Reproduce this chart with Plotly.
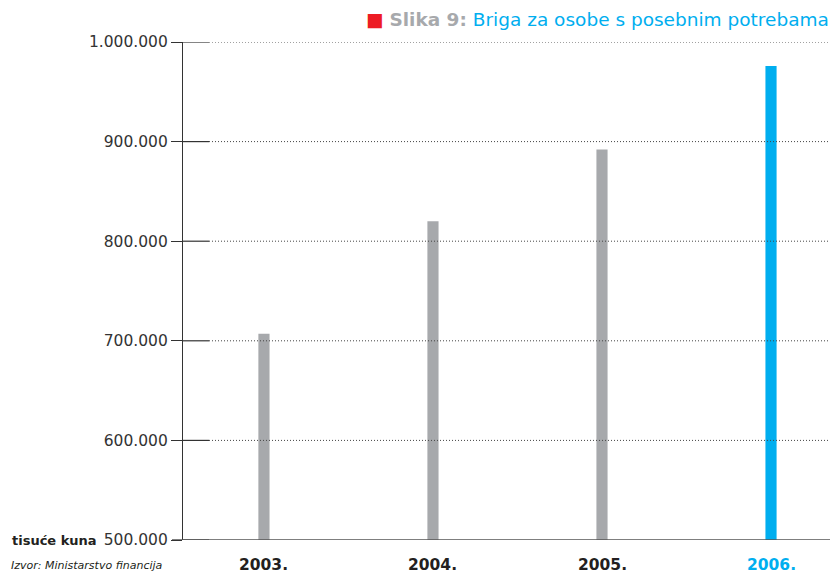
import plotly.graph_objects as go

years = ["2003.", "2004.", "2005.", "2006."]
values = [707000, 820000, 892000, 976000]
bar_colors = ["#a7a9ac", "#a7a9ac", "#a7a9ac", "#00aeef"]
label_colors = ["#231f20", "#231f20", "#231f20", "#00aeef"]
y_ticks = [500000, 600000, 700000, 800000, 900000, 1000000]
y_tick_labels = ["500.000", "600.000", "700.000", "800.000", "900.000", "1.000.000"]
unit_label = "tisuće kuna"
source_label = "Izvor: Ministarstvo financija"

xpos = list(range(len(years)))

W, H = 832, 574
L, R, T, B = 183, 2, 42, 34
pw = W - L - R
ph = H - T - B

def px_x(page_x):
    return (page_x - L) / pw

def px_y(page_y):
    return (H - B - page_y) / ph

fig = go.Figure()
fig.add_trace(go.Bar(
    x=xpos, y=values, width=0.066,
    marker=dict(color=bar_colors, line=dict(width=0)),
    base=0, hoverinfo="skip",
))

shapes = []
for v in y_ticks:
    if v != y_ticks[0]:
        shapes.append(dict(type="line", xref="paper", yref="y", x0=px_x(209), x1=1,
                           y0=v, y1=v, line=dict(color="#444444", width=1, dash="1px,2px"), layer="above"))
    shapes.append(dict(type="line", xref="paper", yref="y", x0=0, x1=px_x(209),
                       y0=v, y1=v, line=dict(color="#333333", width=1.2), layer="above"))
shapes.append(dict(type="line", xref="paper", yref="y", x0=px_x(172), x1=1,
                   y0=y_ticks[0], y1=y_ticks[0], line=dict(color="#555555", width=1.5), layer="above"))

font_fam = "DejaVu Sans, sans-serif"
annotations = [
    dict(xref="paper", yref="paper", x=px_x(831), y=px_y(20), xanchor="right", yanchor="middle",
         showarrow=False, align="right",
         text="<span style='color:#ed1c24'>■</span> <b><span style='color:#a7a9ac'>Slika 9:</span></b> "
              "<span style='color:#00aeef'>Briga za osobe s posebnim potrebama</span>",
         font=dict(family=font_fam, size=18.5)),
    dict(xref="paper", yref="paper", x=px_x(9), y=px_y(565),
         xanchor="left", yanchor="middle", showarrow=False,
         text="<i>" + source_label + "</i>",
         font=dict(family=font_fam, size=11, color="#231f20")),
    dict(xref="paper", yref="y", x=px_x(99), y=y_ticks[0],
         xanchor="right", yanchor="middle", showarrow=False,
         text="<b>" + unit_label + "</b>",
         font=dict(family=font_fam, size=13, color="#231f20")),
]
for i, (lab, c) in enumerate(zip(years, label_colors)):
    annotations.append(dict(xref="x", yref="paper", x=xpos[i], y=px_y(565),
                            xanchor="center", yanchor="middle", showarrow=False,
                            text="<b>" + lab + "</b>",
                            font=dict(family=font_fam, size=15.5, color=c)))

fig.update_layout(
    width=W, height=H,
    margin=dict(l=L, r=R, t=T, b=B, pad=0),
    paper_bgcolor="white", plot_bgcolor="white",
    showlegend=False,
    shapes=shapes, annotations=annotations,
    xaxis=dict(range=[-0.479, 3.349], showgrid=False, zeroline=False, showline=False,
               showticklabels=False, ticks=""),
    yaxis=dict(range=[500000, 1000000], tickvals=y_ticks, ticktext=y_tick_labels,
               showgrid=False, zeroline=False, showline=True, linecolor="#333333", linewidth=1.2,
               ticks="outside", ticklen=11, tickcolor="#333333", tickwidth=1.2,
               tickfont=dict(family=font_fam, size=15.5, color="#333333")),
    font=dict(family=font_fam),
)

fig.write_html("out.html", config={"displayModeBar": False},
               post_script="document.body.style.margin='0';document.body.style.overflow='hidden';")
